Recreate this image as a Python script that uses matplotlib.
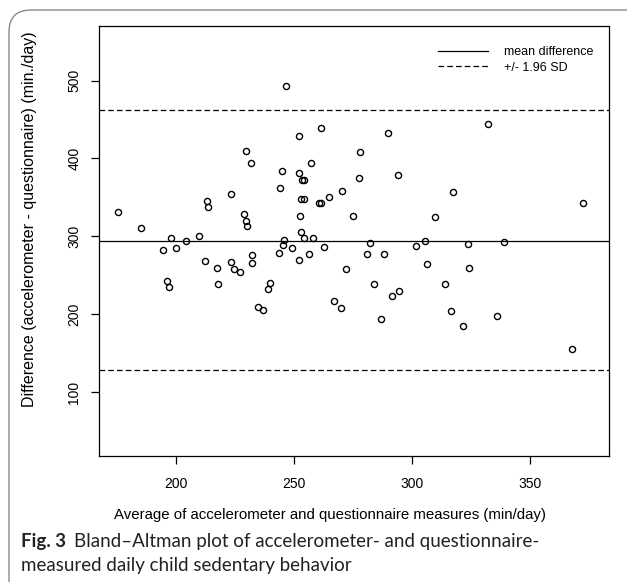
import matplotlib
matplotlib.use("Agg")
import matplotlib.pyplot as plt
from matplotlib.patches import FancyBboxPatch
from matplotlib.transforms import IdentityTransform

# Bland-Altman data
avg = [175.5, 185.3, 197.8, 194.4, 200.0, 204.4, 209.8, 213.0, 213.7, 223.2,
       229.7, 231.8, 228.8, 229.6, 230.2, 232.2, 232.1, 212.3, 217.5, 223.2,
       224.6, 227.3, 196.1, 196.9, 217.8, 239.7, 238.9, 234.8, 236.9, 246.6,
       252.3, 261.6, 290.0, 278.2, 257.1, 244.8, 252.3, 253.6, 254.3, 244.1,
       277.7, 294.3, 270.3, 265.0, 252.9, 254.2, 260.8, 261.5, 252.6, 275.1,
       253.0, 254.2, 258.2, 245.9, 245.5, 249.2, 262.9, 282.3, 243.8, 256.5,
       252.3, 281.2, 288.2, 272.1, 306.4, 324.1, 284.1, 314.0, 266.9, 269.8,
       291.6, 294.6, 287.0, 316.5, 321.8, 332.3, 317.6, 309.8, 372.7, 301.8,
       305.5, 323.8, 339.1, 336.1, 367.9]
diff = [331.0, 311.0, 298.0, 282.3, 284.5, 293.4, 299.8, 346.0, 337.8, 354.9,
        410.0, 394.6, 328.9, 319.4, 313.0, 275.9, 265.6, 267.8, 259.7, 266.5,
        257.5, 254.0, 243.0, 234.5, 238.3, 239.6, 232.8, 208.9, 205.4, 493.6,
        428.3, 439.4, 432.6, 408.3, 394.6, 384.3, 380.9, 372.4, 372.2, 361.7,
        375.4, 378.3, 358.3, 350.2, 348.0, 348.5, 343.4, 343.4, 325.8, 325.8,
        306.2, 298.5, 297.3, 295.0, 288.7, 284.8, 286.1, 291.3, 278.0, 277.2,
        269.0, 277.2, 277.2, 257.5, 264.3, 258.8, 238.3, 238.3, 217.0, 207.6,
        223.4, 229.4, 193.9, 204.2, 184.9, 444.2, 357.0, 325.4, 342.5, 287.0,
        293.4, 290.0, 292.1, 197.4, 155.5]
mean_diff = 294.5
upper_loa = 462.5
lower_loa = 128.2
x_ticks = [200, 250, 300, 350]
y_ticks = [100, 200, 300, 400, 500]

W, H = 627, 582
fig = plt.figure(figsize=(W / 100, H / 100), dpi=100)
plt.rcParams['font.family'] = ['Liberation Sans', 'DejaVu Sans']

# outer rounded frame of the figure panel
frame = FancyBboxPatch((9, -40), 700, H - 10 + 40,
                       boxstyle="round,pad=0,rounding_size=22",
                       transform=IdentityTransform(), fill=False,
                       edgecolor='#8a8a8a', linewidth=1.0)
fig.add_artist(frame)

ax = fig.add_axes([99.3 / W, 1 - 455.7 / H, (608.7 - 99.3) / W, (455.7 - 25.7) / H])
ax.plot(avg, diff, 'o', ms=4.4, mfc='none', mec='black', mew=1.0)
ax.axhline(mean_diff, color='black', lw=0.9, label='mean difference')
ax.axhline(upper_loa, color='black', lw=0.9, ls=(0, (4.5, 2.5)), label='+/- 1.96 SD')
ax.axhline(lower_loa, color='black', lw=0.9, ls=(0, (4.5, 2.5)))

ax.set_xlim(167.5, 383.5)
ax.set_ylim(18.4, 570.4)
ax.set_xticks(x_ticks)
ax.set_yticks(y_ticks)
ax.tick_params(length=6, width=0.9, labelsize=10, pad=7)
ax.tick_params(axis='x', pad=9)
for lab in ax.get_yticklabels():
    lab.set_rotation(90)
    lab.set_va('center')
for s in ax.spines.values():
    s.set_linewidth(0.9)

ax.set_ylabel('Difference (accelerometer - questionnaire) (min./day)', fontsize=11.5)
ax.yaxis.set_label_coords(-0.122, 0.55)
fig.text(330 / W, 1 - 515 / H, 'Average of accelerometer and questionnaire measures (min/day)',
         fontsize=10.8, ha='center', va='center')

ax.legend(loc='upper left', bbox_to_anchor=(0.665, 0.953), frameon=False,
          fontsize=9, handlelength=4.0, handletextpad=1.3, labelspacing=0.3,
          borderpad=0, borderaxespad=0)

# caption
cap = dict(fontsize=13.5, family=['Lato', 'DejaVu Sans'], va='center', color='#222222')
t1 = fig.text(21 / W, 1 - 541 / H, 'Fig. 3', fontweight='bold', **cap)
fig.canvas.draw()
bb = t1.get_window_extent()
fig.text((bb.x1 + 8) / W, 1 - 541 / H, 'Bland\u2013Altman plot of accelerometer- and questionnaire-',
         fontweight='normal', **cap)
fig.text(21 / W, 1 - 566 / H, 'measured daily child sedentary behavior',
         fontweight='normal', **cap)

fig.savefig('out.png', dpi=100)
